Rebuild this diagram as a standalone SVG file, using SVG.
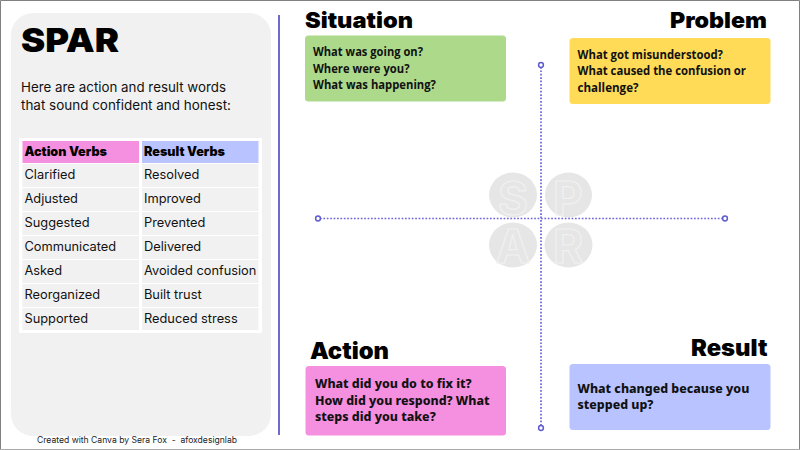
<svg xmlns="http://www.w3.org/2000/svg" width="800" height="450" viewBox="0 0 800 450">
<style>
.h{font-family:Inter,"Liberation Sans",sans-serif;font-weight:900;fill:#000}
.t{font-family:Inter,"Liberation Sans",sans-serif;font-size:12.800px;fill:#111}
.tb{font-family:Inter,"Liberation Sans",sans-serif;font-size:12.800px;font-weight:900;fill:#000}
.q{font-family:"Open Sans","Liberation Sans",sans-serif;font-size:12.200px;font-weight:700;fill:#111}
.qm{font-family:"Noto Sans","Liberation Sans",sans-serif;font-size:12.400px;font-weight:800;fill:#111}
.cell{fill:#f1f1f1}
.dot{stroke:#6a66d8;stroke-width:1.700;stroke-dasharray:1.700 1.700;fill:none}
.end{fill:#fff;stroke:#5f5bd0;stroke-width:1.500}
.c{fill:#e6e6e6}
.l{font-family:Inter,"Liberation Sans",sans-serif;font-size:46px;font-weight:700;fill:none;stroke:#f1f1f1;stroke-width:1.200;text-anchor:middle}
</style>
<rect width="800" height="450" fill="#fff"/>
<path d="M0.500 450V0.500H799.500V450" fill="none" stroke="#808080"/>
<path d="M0 449.500H800" stroke="#aaa"/>
<g id="panel">
<rect x="11" y="13" width="260" height="423" rx="22" fill="#f1f1f1"/>
<text class="h" x="21" y="52" font-size="33" textLength="98" lengthAdjust="spacingAndGlyphs">SPAR</text>
<text class="t" x="21" y="92" style="font-size:13.300px" textLength="205" lengthAdjust="spacingAndGlyphs">Here are action and result words</text>
<text class="t" x="21" y="110" style="font-size:13.300px" textLength="210" lengthAdjust="spacingAndGlyphs">that sound confident and honest:</text>
</g>
<g id="table">
<rect x="19" y="138" width="243" height="195" fill="#fff"/>
<rect x="22.500" y="141" width="116.500" height="22" fill="#f58fe0"/>
<rect x="142" y="141" width="116.500" height="22" fill="#b8c3ff"/>
<text class="tb" x="24.500" y="156" textLength="82.500" lengthAdjust="spacingAndGlyphs">Action Verbs</text>
<text class="tb" x="144" y="156" textLength="81" lengthAdjust="spacingAndGlyphs">Result Verbs</text>
<rect class="cell" x="22.500" y="164" width="116.500" height="23"/><rect class="cell" x="142" y="164" width="116.500" height="23"/>
<rect class="cell" x="22.500" y="188" width="116.500" height="23"/><rect class="cell" x="142" y="188" width="116.500" height="23"/>
<rect class="cell" x="22.500" y="212" width="116.500" height="23"/><rect class="cell" x="142" y="212" width="116.500" height="23"/>
<rect class="cell" x="22.500" y="236" width="116.500" height="23"/><rect class="cell" x="142" y="236" width="116.500" height="23"/>
<rect class="cell" x="22.500" y="260" width="116.500" height="23"/><rect class="cell" x="142" y="260" width="116.500" height="23"/>
<rect class="cell" x="22.500" y="284" width="116.500" height="23"/><rect class="cell" x="142" y="284" width="116.500" height="23"/>
<rect class="cell" x="22.500" y="308" width="116.500" height="22"/><rect class="cell" x="142" y="308" width="116.500" height="22"/>
<text class="t" x="24.500" y="179">Clarified</text><text class="t" x="144" y="179">Resolved</text>
<text class="t" x="24.500" y="203">Adjusted</text><text class="t" x="144" y="203">Improved</text>
<text class="t" x="24.500" y="227">Suggested</text><text class="t" x="144" y="227">Prevented</text>
<text class="t" x="24.500" y="251">Communicated</text><text class="t" x="144" y="251">Delivered</text>
<text class="t" x="24.500" y="275">Asked</text><text class="t" x="144" y="275">Avoided confusion</text>
<text class="t" x="24.500" y="299">Reorganized</text><text class="t" x="144" y="299">Built trust</text>
<text class="t" x="24.500" y="323">Supported</text><text class="t" x="144" y="323">Reduced stress</text>
</g>
<text id="credit" x="37" y="443" font-family="Inter,'Liberation Sans',sans-serif" font-size="8.300" fill="#222" xml:space="preserve" textLength="200" lengthAdjust="spacingAndGlyphs">Created with Canva by Sera Fox  -  afoxdesignlab</text>
<g id="center">
<ellipse class="c" cx="513" cy="195" rx="24" ry="22.500"/><ellipse class="c" cx="568.500" cy="195" rx="23.500" ry="22.500"/>
<ellipse class="c" cx="513" cy="245" rx="24" ry="22.500"/><ellipse class="c" cx="568.500" cy="245" rx="24" ry="22.500"/>
<text class="l" x="513" y="215">S</text><text class="l" x="568" y="215">P</text>
<text class="l" x="513" y="263">A</text><text class="l" x="568" y="263">R</text>
</g>
<g id="connectors">
<line x1="279" y1="15" x2="279" y2="435" stroke="#6f6bc8" stroke-width="2"/>
<line class="dot" x1="320" y1="218.500" x2="723" y2="218.500"/>
<line class="dot" x1="541" y1="67" x2="541" y2="426"/>
<circle class="end" cx="318" cy="218.500" r="2.400"/><circle class="end" cx="725" cy="218.500" r="2.400"/>
<circle class="end" cx="541" cy="65" r="2.400"/><circle class="end" cx="541" cy="428" r="2.400"/>
</g>
<g id="situation">
<text class="h" x="305" y="28" font-size="22" textLength="108" lengthAdjust="spacingAndGlyphs">Situation</text>
<rect x="305" y="35.500" width="201" height="66" rx="3.500" fill="#acd98a"/>
<text class="q" x="313" y="56" textLength="110" lengthAdjust="spacingAndGlyphs">What was going on?</text>
<text class="q" x="313" y="72.500" textLength="96.500" lengthAdjust="spacingAndGlyphs">Where were you?</text>
<text class="q" x="313" y="89" textLength="123" lengthAdjust="spacingAndGlyphs">What was happening?</text>
</g>
<g id="problem">
<text class="h" x="670" y="28" font-size="22" textLength="97" lengthAdjust="spacingAndGlyphs">Problem</text>
<rect x="569.500" y="38" width="201" height="66" rx="3.500" fill="#ffdb58"/>
<text class="q" x="577.500" y="59" textLength="145.500" lengthAdjust="spacingAndGlyphs">What got misunderstood?</text>
<text class="q" x="577.500" y="75" textLength="168.500" lengthAdjust="spacingAndGlyphs">What caused the confusion or</text>
<text class="q" x="577.500" y="92" textLength="61" lengthAdjust="spacingAndGlyphs">challenge?</text>
</g>
<g id="action">
<text class="h" x="310" y="358.500" font-size="22.500" textLength="79" lengthAdjust="spacingAndGlyphs">Action</text>
<rect x="305.500" y="366" width="200.500" height="69.500" rx="3.500" fill="#f58fe0"/>
<text class="qm" x="315" y="388">What did you do to fix it?</text>
<text class="qm" x="315" y="404.500">How did you respond? What</text>
<text class="qm" x="315" y="421">steps did you take?</text>
</g>
<g id="result">
<text class="h" x="691" y="356" font-size="22.500" textLength="76.500" lengthAdjust="spacingAndGlyphs">Result</text>
<rect x="569.500" y="364" width="201" height="66" rx="3.500" fill="#b8c3ff"/>
<text class="qm" x="577.500" y="393">What changed because you</text>
<text class="qm" x="577.500" y="409">stepped up?</text>
</g>
</svg>
